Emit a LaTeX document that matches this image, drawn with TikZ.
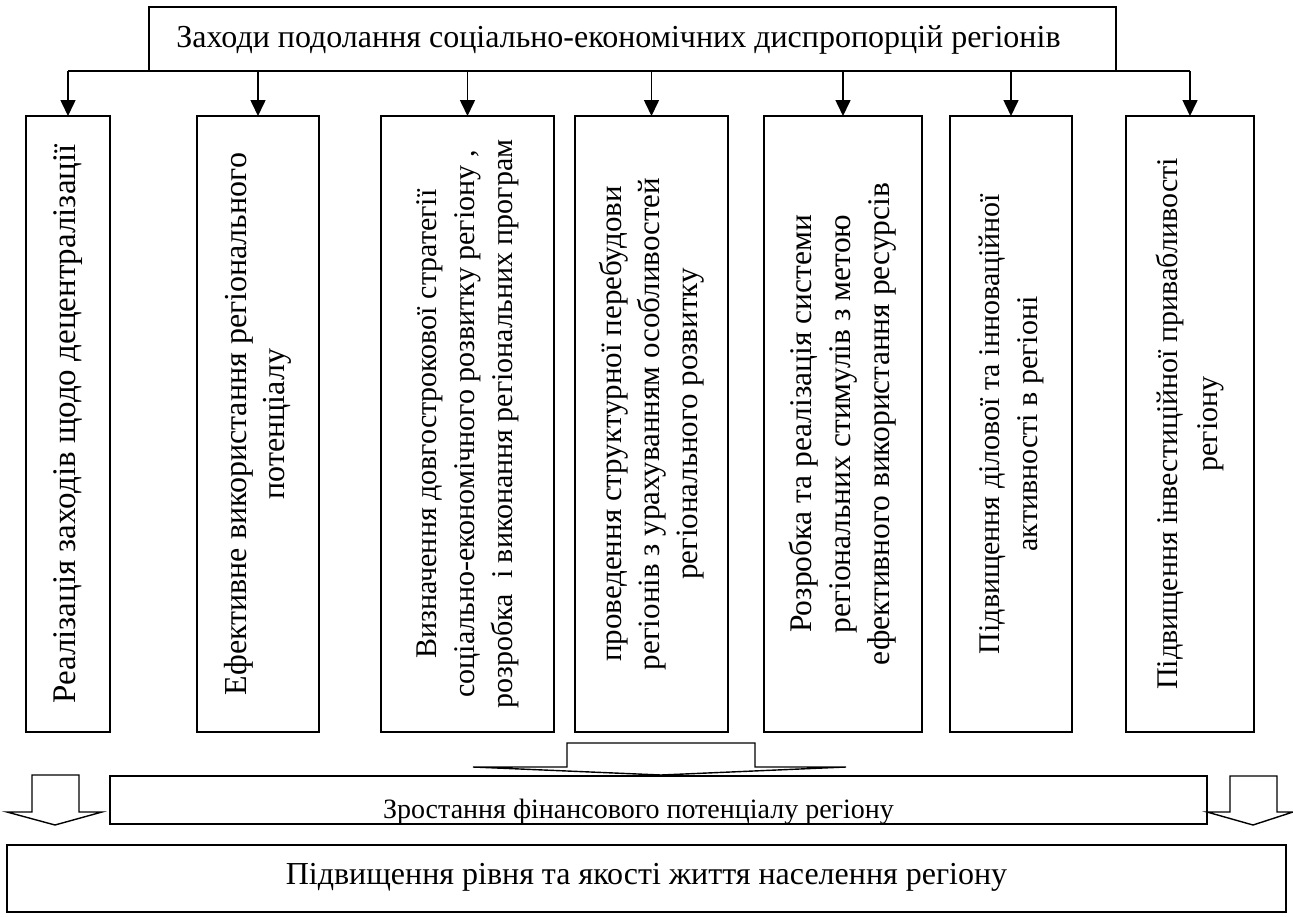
\documentclass[tikz,border=0pt]{standalone}
\usepackage{fontspec}
\setmainfont{Liberation Serif}
\usetikzlibrary{arrows.meta}
\begin{document}
\begin{tikzpicture}[x=1pt,y=-1pt,line width=1.6pt,
  box/.style={draw,line width=1.6pt,inner sep=0pt,outer sep=0pt},
  colbox/.style={box,rotate=90,minimum width=616pt,align=center},
  arr/.style={-{Triangle[length=16pt,width=15pt]},line width=1.6pt},
  fatarrow/.style={draw,line width=1.4pt}]
\useasboundingbox (0,0) rectangle (1293,916);
\node[box,minimum width=967pt,minimum height=64pt,text height=24pt,text depth=8pt,font=\fontsize{32}{38}\selectfont] (top) at (632.5,39) {\hspace*{-28pt}Заходи подолання соціально-економічних диспропорцій регіонів};
\node[colbox,minimum height=84pt,font=\fontsize{33}{39}\selectfont] (c1) at (68,424) {Реалізація заходів щодо децентралізації};
\node[colbox,minimum height=122pt,font=\fontsize{32}{38}\selectfont] (c2) at (258,424) {Ефективне використання регіонального\\потенціалу};
\node[colbox,minimum height=173pt,font=\fontsize{30}{38}\selectfont] (c3) at (467.5,424) {Визначення довгострокової стратегії\\соціально-економічного розвитку регіону ,\\розробка~ і виконання регіональних програм};
\node[colbox,minimum height=153pt,font=\fontsize{31}{38}\selectfont] (c4) at (651.5,424) {проведення структурної перебудови\\регіонів з урахуванням особливостей\\регіонального розвитку};
\node[colbox,minimum height=158pt,font=\fontsize{31.5}{39}\selectfont] (c5) at (843,424) {Розробка та реалізація системи\\регіональних стимулів з метою\\ефективного використання ресурсів};
\node[colbox,minimum height=122pt,font=\fontsize{30}{38}\selectfont] (c6) at (1011,424) {Підвищення ділової та інноваційної\\активності в регіоні};
\node[colbox,minimum height=128pt,font=\fontsize{30}{40}\selectfont] (c7) at (1190,424) {Підвищення інвестиційної привабливості\\регіону};
\node[box,minimum width=1097pt,minimum height=48pt,text height=36pt,text depth=0pt,font=\fontsize{28}{32}\selectfont] (fin) at (658.5,800) {\hspace*{-40pt}Зростання фінансового потенціалу регіону};
\node[box,minimum width=1279pt,minimum height=67pt,text height=22pt,text depth=11pt,font=\fontsize{32}{38}\selectfont] (life) at (646.5,878.5) {Підвищення рівня та якості життя населення регіону};
% bus and arrows
\draw (c1.east |- top.south) -- (c7.east |- top.south);
\foreach \i in {1,...,7}
  \draw[arr] (c\i.east |- top.south) -- (c\i.east);
% hollow arrows
\draw[fatarrow] (567,743) -- (755,743) -- (755,767) -- (846,767) -- (661,775) -- (473,767) -- (567,767) -- cycle;
\draw[fatarrow] (32,775) -- (79,775) -- (79,812) -- (102,812) -- (55,825) -- (7,812) -- (32,812) -- cycle;
\draw[fatarrow] (1230,776) -- (1277,776) -- (1277,812) -- (1293,812) -- (1253,825) -- (1207,812) -- (1230,812) -- cycle;
\end{tikzpicture}
\end{document}
